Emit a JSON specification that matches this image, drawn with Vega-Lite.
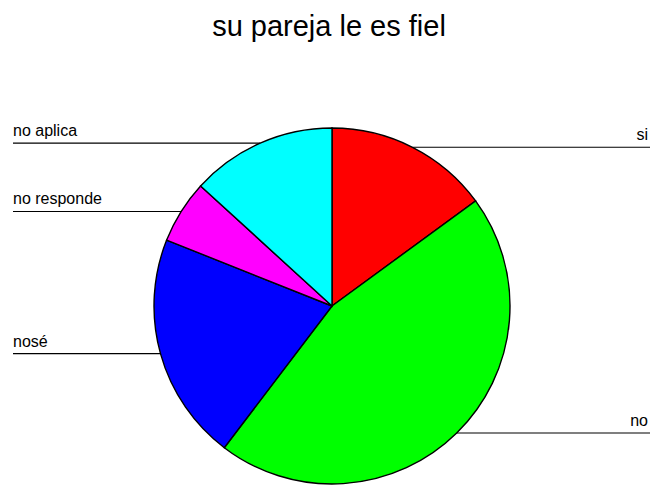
{
  "$schema": "https://vega.github.io/schema/vega-lite/v6.json",
  "width": 650,
  "height": 427,
  "autosize": {"type": "none"},
  "padding": {"top": 60, "left": 0, "right": 0, "bottom": 0},
  "background": "white",
  "title": {
    "text": "su pareja le es fiel",
    "font": "Liberation Sans",
    "fontSize": 29,
    "fontWeight": "normal",
    "color": "black",
    "anchor": "middle",
    "offset": 18,
    "dx": 4
  },
  "config": {"view": {"stroke": null}},
  "data": {
    "values": [
      {"label": "si", "value": 26, "order": 1},
      {"label": "no", "value": 79, "order": 2},
      {"label": "nosé", "value": 36, "order": 3},
      {"label": "no responde", "value": 10, "order": 4},
      {"label": "no aplica", "value": 23, "order": 5}
    ]
  },
  "transform": [
    {"joinaggregate": [{"op": "sum", "field": "value", "as": "total"}]},
    {"window": [{"op": "sum", "field": "value", "as": "cum"}], "sort": [{"field": "order"}], "frame": [null, 0]},
    {"calculate": "2 * PI * (datum.cum - datum.value / 2) / datum.total", "as": "mid"},
    {"calculate": "sin(datum.mid)", "as": "px"},
    {"calculate": "cos(datum.mid)", "as": "py"},
    {"calculate": "datum.px > 0 ? 1.7921 : -1.7921", "as": "edge"},
    {"calculate": "datum.px > 0 ? 1.7753 : -1.7921", "as": "tx"}
  ],
  "layer": [
    {
      "mark": {"type": "arc", "radius": 178, "stroke": "black", "strokeWidth": 1.4},
      "encoding": {
        "theta": {"field": "value", "type": "quantitative", "stack": true},
        "order": {"field": "order", "type": "quantitative"},
        "color": {
          "field": "label",
          "type": "nominal",
          "scale": {
            "domain": ["si", "no", "nosé", "no responde", "no aplica"],
            "range": ["#FF0000", "#00FF00", "#0000FF", "#FF00FF", "#00FFFF"]
          },
          "legend": null
        },
        "x": {"datum": 0, "type": "quantitative", "scale": {"domain": [-1.86517, 1.78652], "nice": false, "zero": false}, "axis": null},
        "y": {"datum": 0, "type": "quantitative", "scale": {"domain": [-1.01685, 1.38202], "nice": false, "zero": false}, "axis": null}
      }
    },
    {
      "mark": {"type": "rule", "color": "black", "strokeWidth": 1.2},
      "encoding": {
        "x": {"field": "px", "type": "quantitative"},
        "x2": {"field": "edge"},
        "y": {"field": "py", "type": "quantitative"}
      }
    },
    {
      "transform": [{"filter": "datum.px < 0"}],
      "mark": {"type": "text", "align": "left", "baseline": "alphabetic", "dy": -7, "font": "Liberation Sans", "fontSize": 16, "color": "black"},
      "encoding": {
        "x": {"field": "tx", "type": "quantitative"},
        "y": {"field": "py", "type": "quantitative"},
        "text": {"field": "label", "type": "nominal"}
      }
    },
    {
      "transform": [{"filter": "datum.px > 0"}],
      "mark": {"type": "text", "align": "right", "baseline": "alphabetic", "dy": -7, "font": "Liberation Sans", "fontSize": 16, "color": "black"},
      "encoding": {
        "x": {"field": "tx", "type": "quantitative"},
        "y": {"field": "py", "type": "quantitative"},
        "text": {"field": "label", "type": "nominal"}
      }
    }
  ]
}
